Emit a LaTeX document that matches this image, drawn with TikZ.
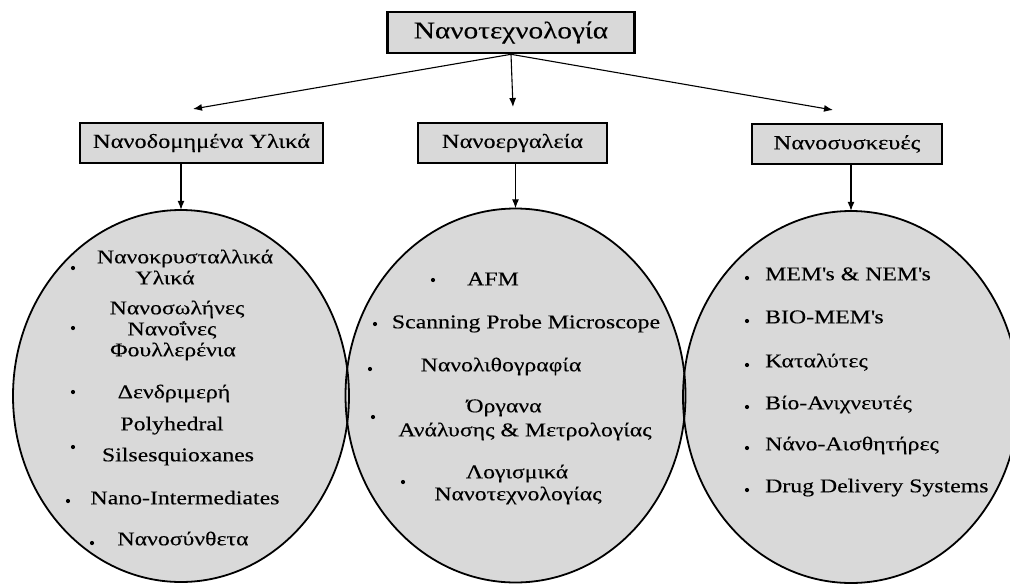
\documentclass[tikz,border=0pt]{standalone}
\usepackage{fontspec}
\setmainfont{Liberation Serif}[FakeStretch=1.22,FakeBold=0.25]
\usetikzlibrary{arrows.meta,shapes.geometric}
\definecolor{fillgray}{RGB}{217,217,217}
\begin{document}
\begin{tikzpicture}[x=1pt,y=-1pt,
  txt/.style={inner sep=0pt, font=\fontsize{19.5}{22}\selectfont},
  box/.style={draw, fill=fillgray, line width=1.3pt, inner sep=0pt, minimum height=40pt, font=\fontsize{20}{23}\selectfont},
  ellfill/.style={ellipse, fill=fillgray, inner sep=0pt},
  elldraw/.style={ellipse, draw, line width=1.8pt, inner sep=0pt},
  arr/.style={-{Latex[length=9pt,width=7pt]}, line width=1.1pt},
  bul/.style={circle, fill=black, inner sep=0pt, minimum size=4.2pt},
  item/.style={txt, anchor=mid},
  litem/.style={txt, anchor=mid west}
]
\useasboundingbox (0,0) rectangle (1010,584);

% top box
\node[box, line width=2.6pt, minimum width=247pt, minimum height=41pt, font=\fontsize{24}{28}\selectfont] (top) at (511,32.5) {Νανοτεχνολογία};

% second row
\node[box, minimum width=243pt] (boxL) at (201.5,143) {Νανοδομημένα Υλικά};
\node[box, minimum width=189pt] (boxM) at (512.5,143) {Νανοεργαλεία};
\node[box, minimum width=190pt] (boxR) at (847,144) {Νανοσυσκευές};

% arrow tips
\coordinate (tipL) at (193,109);
\coordinate (tipM) at (513,107);
\coordinate (tipR) at (833,110);
\draw[arr] (top.south) -- (tipL);
\draw[arr] (top.south) -- (tipM);
\draw[arr] (top.south) -- (tipR);

% ellipses
\node[ellfill, minimum width=336pt, minimum height=372pt] (ellL) at (181,396) {};
\node[ellfill, minimum width=340pt, minimum height=374pt] (ellM) at (515.5,395.5) {};
\node[ellfill, minimum width=336pt, minimum height=372pt] (ellR) at (851,397) {};
\node[elldraw, minimum width=336pt, minimum height=372pt] (ellLo) at (ellL.center) {};
\node[elldraw, minimum width=340pt, minimum height=374pt] (ellMo) at (ellM.center) {};
\node[elldraw, minimum width=336pt, minimum height=372pt] (ellRo) at (ellR.center) {};

\draw[arr] (ellL.north |- boxL.south) -- (ellL.north);
\draw[arr] (ellM.north |- boxM.south) -- (ellM.north);
\draw[arr] (ellR.north |- boxR.south) -- (ellR.north);

% left items
\node[bul] (lb1) at (73,268) {};
\node[item] (l1a) at (185,261) {Νανοκρυσταλλικά};
\node[item] (l1b) at (165,282) {Υλικά};
\node[bul] (lb2) at (73,328) {};
\node[item] (l2a) at (177,312) {Νανοσωλήνες};
\node[item] (l2b) at (172,333) {Νανοΐνες};
\node[item] (l2c) at (173,354) {Φουλλερένια};
\node[bul] (lb3) at (73,392) {};
\node[item] (l3) at (174,396) {Δενδριμερή};
\node[bul] (lb4) at (73,447) {};
\node[item] (l4a) at (172,428) {Polyhedral};
\node[item] (l4b) at (178,459) {Silsesquioxanes};
\node[bul] (lb5) at (68,501) {};
\node[item] (l5) at (185,502) {Nano-Intermediates};
\node[bul] (lb6) at (92,543) {};
\node[item] (l6) at (183,543) {Νανοσύνθετα};

% middle items
\node[bul] (mb1) at (433,280) {};
\node[item] (m1) at (493,283) {AFM};
\node[bul] (mb2) at (375,324) {};
\node[item] (m2) at (526,326) {Scanning Probe Microscope};
\node[bul] (mb3) at (370,369) {};
\node[item] (m3) at (501,369) {Νανολιθογραφία};
\node[bul] (mb4) at (373,417) {};
\node[item] (m4a) at (504,410) {Όργανα};
\node[item] (m4b) at (525,434) {Ανάλυσης \& Μετρολογίας};
\node[bul] (mb5) at (403,482) {};
\node[item] (m5a) at (517,476) {Λογισμικά};
\node[item] (m5b) at (518,498) {Νανοτεχνολογίας};

% right items
\node[bul] (rb1) at (747,278) {};
\node[litem] (r1) at (765,278) {MEM\textquotesingle s \& NEM\textquotesingle s};
\node[bul] (rb2) at (747,321) {};
\node[litem] (r2) at (765,321) {BIO-MEM\textquotesingle s};
\node[bul] (rb3) at (747,365) {};
\node[litem] (r3) at (765,365) {Καταλύτες};
\node[bul] (rb4) at (747,407) {};
\node[litem] (r4) at (765,407) {Βίο-Ανιχνευτές};
\node[bul] (rb5) at (747,448) {};
\node[litem] (r5) at (765,448) {Νάνο-Αισθητήρες};
\node[bul] (rb6) at (747,490) {};
\node[litem] (r6) at (765,490) {Drug Delivery Systems};
\end{tikzpicture}
\end{document}
